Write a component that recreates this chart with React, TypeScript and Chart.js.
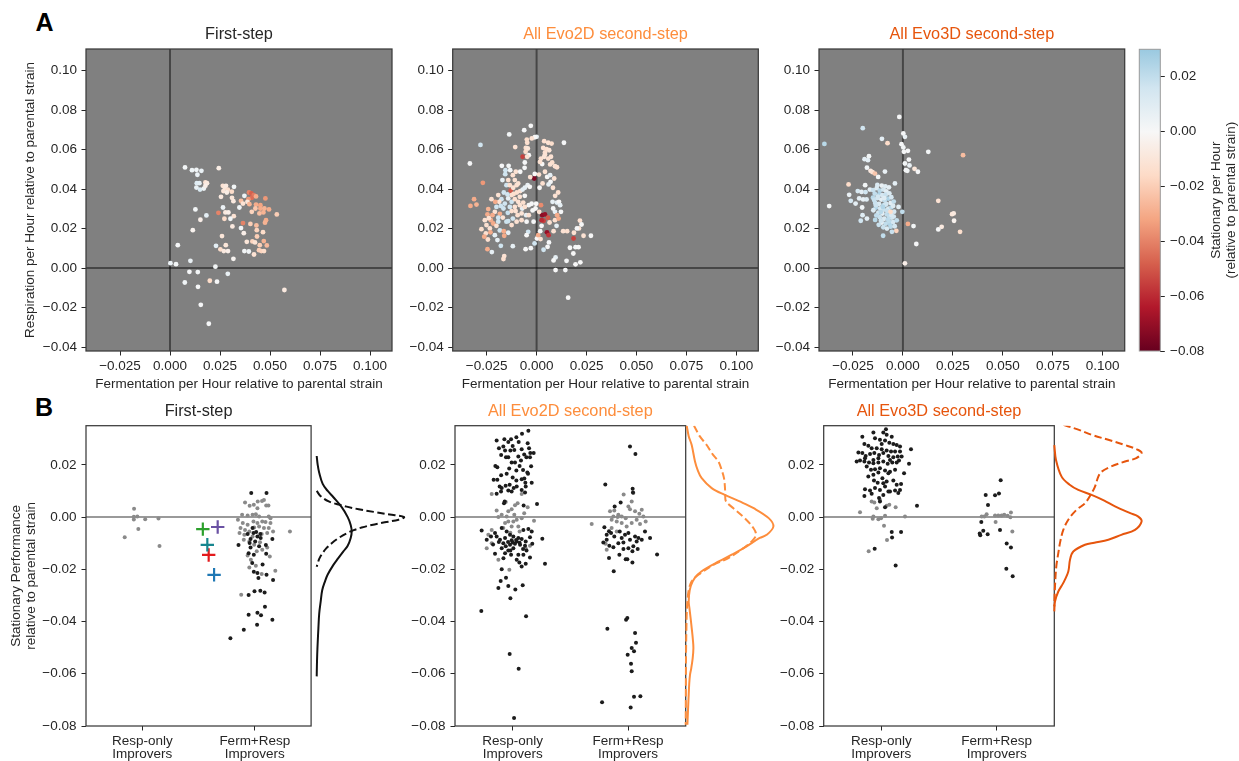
import { useEffect, useRef } from "react";
import { Chart, registerables } from "chart.js";

Chart.register(...registerables);

const FONT = "'Liberation Sans', Arial, Helvetica, sans-serif";
const INK = "#262626";
const EVO2D = "#fd8d3c";
const EVO3D = "#e6550d";
const BLACK_DOT = "#1c1c1c";
const GRAY_DOT = "#8a8a8a";

Chart.defaults.font.family = FONT;
Chart.defaults.color = INK;

// ---------- Panel A: fermentation vs respiration, coloured by stationary performance ----------
const A_MIN = -0.042;
const A_MAX = 0.111;
const A_X_TICKS = [-0.025, 0, 0.025, 0.05, 0.075, 0.1];
const A_Y_TICKS = [-0.04, -0.02, 0, 0.02, 0.04, 0.06, 0.08, 0.1];
const A_X_TITLE = "Fermentation per Hour relative to parental strain";
const A_Y_TITLE = "Respiration per Hour relative to parental strain";

// [fermentation, respiration, stationary]
const firstStepFitness: number[][] = [
  [0.0075, 0.051, 0.002], [0.011, 0.0496, 0.004], [0.0132, 0.0498, 0.003], [0.0157, 0.0493, 0.006], [0.0137, 0.0473, 0.005],
  [0.0244, 0.0506, -0.006], [0.0134, 0.043, 0.01], [0.0147, 0.043, 0.008], [0.0177, 0.0434, -0.012], [0.0185, 0.043, -0.008],
  [0.0132, 0.0408, 0.006], [0.015, 0.0398, 0.012], [0.0169, 0.0403, 0.004], [0.0177, 0.0417, -0.005], [0.0264, 0.0417, -0.012],
  [0.0274, 0.0407, -0.01], [0.028, 0.0417, -0.008], [0.0289, 0.0397, -0.014], [0.0267, 0.039, -0.01], [0.0309, 0.0387, -0.015],
  [0.032, 0.0412, 0.002], [0.0255, 0.0361, -0.008], [0.0284, 0.0383, -0.006], [0.031, 0.0356, -0.01], [0.0395, 0.0383, -0.04],
  [0.0407, 0.0378, -0.048], [0.0419, 0.037, -0.042], [0.0409, 0.0356, -0.045], [0.0392, 0.0349, -0.035], [0.043, 0.0363, -0.03],
  [0.0372, 0.0366, 0.004], [0.0387, 0.0336, -0.01], [0.0355, 0.0341, -0.025], [0.0397, 0.0324, -0.028], [0.043, 0.0322, -0.03],
  [0.0452, 0.0319, -0.032], [0.0477, 0.0353, -0.035], [0.0452, 0.0302, -0.03], [0.0472, 0.0302, -0.028], [0.0495, 0.0297, -0.03],
  [0.0427, 0.0302, -0.022], [0.0447, 0.0277, -0.025], [0.0467, 0.0282, -0.028], [0.0534, 0.0272, -0.02], [0.0409, 0.0285, -0.018],
  [0.0365, 0.0327, -0.012], [0.0347, 0.0307, 0.003], [0.0317, 0.0339, -0.008], [0.0265, 0.0307, 0.005], [0.0242, 0.028, -0.04],
  [0.0277, 0.0282, -0.008], [0.0292, 0.0282, -0.005], [0.0319, 0.0263, -0.012], [0.0272, 0.025, -0.015], [0.0302, 0.025, 0.003],
  [0.0127, 0.0297, 0.002], [0.0182, 0.0267, 0.008], [0.0152, 0.0245, -0.005], [0.0365, 0.0228, -0.04], [0.0402, 0.0224, -0.02],
  [0.0432, 0.0216, -0.025], [0.0355, 0.0203, 0.003], [0.0434, 0.0192, -0.018], [0.048, 0.0243, -0.03], [0.0475, 0.023, -0.028],
  [0.0369, 0.0177, -0.005], [0.0465, 0.0182, -0.015], [0.0435, 0.016, -0.02], [0.0114, 0.0192, -0.003], [0.026, 0.0162, -0.01],
  [0.0312, 0.0211, -0.008], [0.0039, 0.0116, 0.001], [0.023, 0.0113, 0.008], [0.0279, 0.0116, -0.01], [0.0252, 0.0095, -0.015],
  [0.0269, 0.0086, -0.008], [0.029, 0.0086, -0.005], [0.0384, 0.0133, -0.01], [0.0412, 0.0135, -0.018], [0.0425, 0.013, -0.012],
  [0.0449, 0.0116, -0.02], [0.0469, 0.0137, -0.028], [0.0484, 0.0115, -0.026], [0.0372, 0.0086, 0.002], [0.0394, 0.0084, 0.003],
  [0.042, 0.0069, -0.012], [0.0445, 0.0091, -0.02], [0.0457, 0.0086, -0.018], [0.047, 0.0086, -0.015], [0.0317, 0.0047, -0.002],
  [0.0102, 0.0037, 0.006], [0.0002, 0.0025, 0.005], [0.003, 0.002, 0.002], [0.0227, 0.0007, 0.002], [0.0097, -0.0019, 0.001],
  [0.0139, -0.002, 0.002], [0.0289, -0.0029, 0.006], [0.0074, -0.0073, 0.003], [0.0199, -0.0064, -0.015], [0.0235, -0.0069, 0.001],
  [0.014, -0.0095, 0.001], [0.0572, -0.0111, -0.008], [0.0154, -0.0186, 0.001], [0.0194, -0.0282, 0.001],
];

const evo2dFitness: number[][] = [
  [-0.0029, 0.0721, 0.0], [-0.0062, 0.0699, 0.001], [-0.0137, 0.0677, 0.002], [0.0, 0.0665, 0.007], [-0.0009, 0.0663, 0.0],
  [-0.0024, 0.0657, -0.012], [-0.0049, 0.0651, -0.014], [-0.0047, 0.0635, -0.013], [-0.0281, 0.0624, 0.016], [-0.0107, 0.0613, -0.012],
  [-0.0054, 0.0609, -0.013], [-0.0044, 0.0606, -0.01], [0.0038, 0.0643, -0.013], [0.0058, 0.0635, -0.012], [0.0075, 0.0631, -0.014],
  [0.0137, 0.0635, 0.001], [0.0033, 0.0609, -0.012], [0.005, 0.0603, -0.013], [0.0063, 0.0597, -0.011], [0.0042, 0.0586, -0.013],
  [0.0042, 0.0576, -0.012], [-0.0055, 0.0589, -0.014], [-0.0039, 0.0572, 0.0], [-0.007, 0.0564, -0.055], [-0.0047, 0.0564, -0.012],
  [0.0022, 0.0555, -0.013], [0.0038, 0.0564, -0.011], [0.0058, 0.0555, -0.013], [0.0072, 0.0564, -0.012], [0.0078, 0.0535, -0.014],
  [0.0092, 0.0516, -0.012], [0.0102, 0.0511, -0.013], [0.0068, 0.0525, -0.012], [0.0028, 0.0527, 0.0], [0.0017, 0.0538, -0.012],
  [-0.0059, 0.0535, 0.001], [-0.0334, 0.053, 0.001], [-0.0174, 0.0518, 0.001], [-0.014, 0.0518, 0.002], [-0.0156, 0.0496, 0.016],
  [-0.0132, 0.0496, 0.002], [-0.0119, 0.0471, -0.013], [-0.0104, 0.0488, -0.012], [-0.0082, 0.0488, 0.0], [-0.006, 0.0508, 0.001],
  [-0.0012, 0.0454, -0.075], [-0.0009, 0.0477, 0.0], [-0.0032, 0.0461, -0.012], [0.0012, 0.0474, -0.013], [0.0042, 0.0488, -0.012],
  [0.0053, 0.0462, 0.0], [0.0068, 0.0471, 0.007], [0.0088, 0.0454, -0.012], [0.007, 0.0437, 0.0], [0.006, 0.0424, 0.007],
  [0.003, 0.0429, -0.013], [0.0015, 0.0407, 0.0], [0.0082, 0.0407, -0.012], [0.0108, 0.0383, -0.013], [0.0093, 0.0366, -0.012],
  [0.008, 0.0336, 0.007], [0.0102, 0.0332, 0.008], [0.0112, 0.0336, 0.0], [0.0118, 0.0319, 0.007], [0.0092, 0.0285, 0.007],
  [0.0122, 0.0285, 0.001], [0.0103, 0.0268, -0.03], [0.0083, 0.0302, 0.0], [-0.0269, 0.0432, -0.035], [-0.0157, 0.0476, 0.016],
  [-0.0171, 0.0446, 0.007], [-0.0142, 0.0446, -0.013], [-0.013, 0.0392, -0.05], [-0.0117, 0.0407, -0.012], [-0.01, 0.042, -0.013],
  [-0.0092, 0.0429, -0.012], [-0.0115, 0.0376, -0.014], [-0.0082, 0.039, -0.012], [-0.007, 0.0398, 0.007], [-0.0059, 0.0407, 0.008],
  [-0.0045, 0.042, 0.006], [-0.0034, 0.0412, 0.0], [-0.0164, 0.0383, 0.016], [-0.0176, 0.0349, 0.017], [-0.0142, 0.0353, 0.007],
  [-0.0159, 0.0327, 0.016], [-0.0187, 0.0336, -0.012], [-0.0207, 0.0336, -0.03], [-0.0226, 0.0349, -0.013], [-0.0313, 0.0349, -0.03],
  [-0.0301, 0.0322, -0.028], [-0.0331, 0.0315, -0.03], [-0.0242, 0.0299, -0.028], [-0.0209, 0.0285, -0.012], [-0.0184, 0.0275, -0.03],
  [-0.0166, 0.0302, 0.016], [-0.0144, 0.028, 0.018], [-0.0125, 0.0289, -0.013], [-0.0109, 0.031, -0.012], [-0.0095, 0.0268, -0.013],
  [-0.0075, 0.0277, -0.011], [-0.0052, 0.0268, 0.007], [-0.002, 0.0292, 0.0], [-0.0039, 0.0319, 0.001], [-0.0072, 0.0302, 0.007],
  [-0.0092, 0.0336, -0.012], [-0.0067, 0.0332, -0.013], [-0.0119, 0.0251, 0.016], [-0.0142, 0.0238, 0.017], [-0.0169, 0.0256, -0.012],
  [-0.0192, 0.0235, 0.015], [-0.0229, 0.0243, -0.03], [-0.0246, 0.0272, -0.03], [-0.0251, 0.0218, -0.013], [-0.0234, 0.0201, -0.012],
  [-0.0276, 0.0197, -0.014], [-0.0254, 0.0176, -0.013], [-0.0231, 0.0181, -0.03], [-0.0209, 0.0167, 0.007], [-0.0184, 0.0191, 0.016],
  [-0.0164, 0.0187, -0.03], [-0.0142, 0.0179, 0.007], [-0.0162, 0.0164, -0.03], [-0.0196, 0.0142, 0.007], [-0.0244, 0.0145, -0.013],
  [-0.0246, 0.0096, -0.03], [-0.0224, 0.0081, 0.007], [-0.0179, 0.0113, 0.016], [-0.0119, 0.0111, 0.007], [-0.0162, 0.0061, -0.012],
  [-0.0166, 0.0046, -0.013], [-0.0055, 0.0096, 0.0], [-0.0029, 0.0101, 0.001], [-0.001, 0.0125, 0.016], [0.0002, 0.015, 0.0],
  [0.0008, 0.0167, -0.03], [0.002, 0.0147, -0.012], [0.0035, 0.0093, 0.016], [0.0055, 0.0108, 0.0], [0.0062, 0.013, 0.001],
  [0.0018, 0.0187, 0.0], [0.0025, 0.0214, 0.0], [0.0022, 0.0319, -0.038], [0.0028, 0.0268, -0.072], [0.0042, 0.0272, -0.07],
  [0.0035, 0.024, -0.055], [0.0057, 0.0255, -0.05], [0.0025, 0.0243, -0.06], [-0.0005, 0.0302, 0.0], [-0.0025, 0.0326, 0.001],
  [-0.0002, 0.0326, 0.0], [0.0013, 0.0285, -0.012], [0.0065, 0.0231, -0.013], [0.0085, 0.0187, -0.012], [0.0052, 0.0181, -0.07],
  [0.006, 0.0167, -0.058], [0.01, 0.0214, 0.007], [0.0092, 0.0243, -0.013], [0.0133, 0.0187, -0.012], [0.0153, 0.0187, -0.013],
  [0.0187, 0.0179, -0.012], [0.0212, 0.0201, -0.011], [0.0217, 0.0241, -0.013], [0.0225, 0.0221, 0.0], [0.0202, 0.0201, 0.001],
  [0.0185, 0.015, -0.055], [0.0235, 0.0164, -0.012], [0.0272, 0.0164, 0.0], [0.0167, 0.0103, 0.0], [0.0195, 0.0106, 0.001],
  [0.021, 0.0106, 0.0], [0.0184, 0.0074, 0.0], [0.015, 0.0037, 0.001], [0.0195, 0.0019, 0.0], [0.0219, 0.0029, 0.0],
  [0.0095, 0.0054, 0.007], [0.0085, 0.0039, 0.0], [0.0095, -0.001, 0.0], [0.0144, -0.001, 0.001], [0.0158, -0.015, 0.0],
  [0.011, 0.0251, -0.03], [-0.0039, 0.0268, -0.012], [-0.005, 0.0235, 0.0], [-0.0042, 0.0184, 0.016], [-0.005, 0.0167, 0.0],
  [-0.0015, 0.0235, 0.001], [-0.0151, 0.042, 0.016], [-0.0134, 0.042, -0.013], [-0.0109, 0.0446, -0.012], [-0.0099, 0.0383, -0.013],
  [-0.0084, 0.0361, -0.012], [-0.0125, 0.0336, 0.017], [-0.0109, 0.0349, -0.013], [-0.0134, 0.031, 0.016], [-0.0084, 0.0319, -0.012],
  [-0.0059, 0.031, -0.013], [-0.0201, 0.031, 0.016], [-0.0179, 0.0315, 0.017], [-0.0221, 0.0268, -0.03], [-0.0239, 0.0253, -0.012],
  [-0.0192, 0.0255, 0.016], [-0.0151, 0.0235, 0.017], [-0.0125, 0.0218, -0.013], [-0.01, 0.0235, -0.012], [-0.0075, 0.0243, -0.013],
  [-0.0105, 0.0289, -0.012], [-0.0125, 0.037, -0.013], [-0.0059, 0.0366, 0.0], [-0.0146, 0.0373, 0.016], [-0.0192, 0.037, -0.012],
  [-0.0217, 0.0226, -0.03], [-0.0201, 0.0214, -0.013], [-0.0259, 0.0243, -0.012], [-0.0262, 0.0159, -0.03],
];

const evo3dFitness: number[][] = [
  [-0.0018, 0.0766, 0.001], [-0.0201, 0.0709, 0.016], [0.0002, 0.0682, 0.001], [0.001, 0.0665, 0.006], [-0.0105, 0.0655, 0.008],
  [-0.0077, 0.0633, -0.015], [-0.0393, 0.0629, 0.022], [-0.0007, 0.0628, 0.001], [0.0002, 0.0611, 0.002], [0.0005, 0.0589, 0.001],
  [0.0025, 0.0594, 0.001], [0.0127, 0.0589, 0.002], [0.0301, 0.0572, -0.025], [-0.017, 0.0567, 0.002], [-0.0192, 0.0552, 0.008],
  [-0.0175, 0.0547, 0.008], [0.003, 0.055, 0.001], [0.001, 0.053, 0.002], [0.0033, 0.052, 0.006], [0.0058, 0.0503, -0.01],
  [0.0075, 0.0488, 0.001], [0.0015, 0.0496, 0.001], [0.0022, 0.0493, 0.002], [-0.018, 0.0509, 0.003], [-0.0162, 0.0493, -0.008],
  [-0.0152, 0.0486, -0.012], [-0.014, 0.0479, -0.022], [-0.0124, 0.0462, 0.002], [-0.009, 0.0489, 0.006], [-0.0272, 0.0424, -0.015],
  [-0.0189, 0.042, 0.002], [-0.0165, 0.0398, 0.008], [-0.0226, 0.039, 0.014], [-0.0207, 0.0386, 0.008], [-0.0187, 0.0385, 0.016],
  [-0.0269, 0.0371, 0.006], [-0.0219, 0.0353, 0.008], [-0.0199, 0.0348, 0.006], [-0.0182, 0.0348, 0.01], [-0.0261, 0.0341, 0.014],
  [-0.0237, 0.0327, 0.008], [-0.0204, 0.0307, 0.003], [-0.0369, 0.0314, 0.002], [-0.004, 0.0429, 0.008], [-0.0022, 0.031, 0.01],
  [-0.0003, 0.0285, 0.02], [0.0177, 0.0341, -0.012], [0.0246, 0.0273, -0.01], [0.0254, 0.0277, -0.008], [0.0256, 0.024, -0.003],
  [0.0194, 0.0209, -0.008], [0.0177, 0.0196, 0.001], [0.0286, 0.0184, -0.014], [0.0025, 0.0224, -0.03], [0.0053, 0.0213, 0.002],
  [0.0067, 0.0122, 0.001], [0.001, 0.0024, -0.005], [-0.0202, 0.0268, 0.01], [-0.018, 0.0251, 0.008], [-0.0211, 0.024, 0.016],
  [-0.0033, 0.0189, -0.018], [-0.0055, 0.0184, 0.018], [-0.0099, 0.0164, 0.02],
  [-0.0149, 0.0395, 0.018], [-0.0131, 0.0405, 0.012], [-0.0116, 0.0392, 0.022], [-0.0098, 0.0398, 0.015], [-0.0083, 0.0389, 0.008],
  [-0.0141, 0.0377, 0.02], [-0.0118, 0.0374, 0.025], [-0.0103, 0.0369, 0.014], [-0.0086, 0.0372, 0.018], [-0.0068, 0.0379, 0.012],
  [-0.015, 0.0357, 0.022], [-0.0128, 0.0354, 0.015], [-0.0108, 0.0347, 0.008], [-0.0091, 0.0343, 0.02], [-0.0073, 0.0352, 0.025],
  [-0.0058, 0.0359, 0.014], [-0.0139, 0.033, 0.018], [-0.012, 0.0325, 0.012], [-0.0098, 0.0318, 0.022], [-0.0083, 0.0325, 0.015],
  [-0.0061, 0.033, 0.008], [-0.0046, 0.0337, 0.02], [-0.0136, 0.0306, 0.025], [-0.0114, 0.0303, 0.014], [-0.0096, 0.0296, 0.018],
  [-0.0073, 0.0301, 0.012], [-0.0058, 0.0308, 0.022], [-0.0123, 0.0281, 0.015], [-0.0103, 0.0276, 0.008], [-0.0081, 0.0272, 0.02],
  [-0.0066, 0.0279, 0.025], [-0.0044, 0.0286, 0.014], [-0.0116, 0.0258, 0.018], [-0.0094, 0.025, 0.012], [-0.0075, 0.0247, 0.022],
  [-0.0056, 0.0256, 0.015], [-0.0106, 0.023, 0.008], [-0.0086, 0.0225, 0.02], [-0.0064, 0.0222, 0.025], [-0.0049, 0.0234, 0.014],
  [-0.0098, 0.0207, 0.018], [-0.008, 0.02, 0.012], [-0.0061, 0.021, 0.022], [-0.0041, 0.0212, 0.015], [-0.0133, 0.0267, 0.02],
  [-0.0148, 0.0293, 0.012], [-0.0139, 0.0244, 0.022], [-0.0121, 0.0219, 0.018], [-0.0046, 0.0261, 0.014], [-0.0031, 0.0242, 0.02],
  [-0.0106, 0.0418, 0.006], [-0.0088, 0.0414, 0.01], [-0.007, 0.0409, 0.008], [-0.0128, 0.0421, 0.012], [-0.0144, 0.0345, 0.018],
  [-0.0111, 0.0284, 0.022], [-0.009, 0.032, 0.016], [-0.0068, 0.0262, 0.02], [-0.0049, 0.0315, 0.012], [-0.0125, 0.0362, 0.015],
  [-0.0093, 0.0355, 0.01], [-0.0079, 0.029, 0.018], [-0.011, 0.024, 0.016], [-0.007, 0.0237, 0.021], [-0.01, 0.031, 0.024],
  [-0.0057, 0.0268, 0.013], [-0.0135, 0.0318, 0.017], [-0.0062, 0.0285, -0.015],
];

// ---------- Colour scale (RdBu, centred on zero) ----------
const NORM_MIN = -0.08;
const NORM_MAX = 0.08;
const CBAR_MIN = -0.08;
const CBAR_MAX = 0.03;
const CBAR_TICKS = [-0.08, -0.06, -0.04, -0.02, 0, 0.02];
const CBAR_LABEL = ["Stationary per Hour", "(relative to parental strain)"];
const RDBU = [
  "#67001f", "#b2182b", "#d6604d", "#f4a582", "#fddbc7", "#f7f7f7",
  "#d1e5f0", "#92c5de", "#4393c3", "#2166ac", "#053061",
];

// ---------- Panel B: stationary performance by improver class ----------
const B_MIN = -0.08;
const B_MAX = 0.035;
const B_Y_TICKS = [-0.08, -0.06, -0.04, -0.02, 0, 0.02];
const GROUP_POS = [0, 1];
const GROUP_LABELS = [["Resp-only", "Improvers"], ["Ferm+Resp", "Improvers"]];
const B_Y_TITLE = ["Stationary Performance", "relative to parental strain"];

// [jittered group position, stationary performance]
const firstRespGray: number[][] = [
  [-0.073, 0.0032], [-0.075, 0.0001], [-0.044, 0.0002], [-0.075, -0.0009], [0.026, -0.0008],
  [0.144, -0.0005], [-0.035, -0.0046], [-0.156, -0.0077], [0.153, -0.0111],
];
const firstFermBlack: number[][] = [
  [0.968, 0.0092], [1.104, 0.0092], [0.98, -0.0042], [0.936, -0.0065], [1.023, -0.0074], [1.052, -0.008],
  [0.855, -0.0107], [0.962, -0.0084], [1.003, -0.0093], [1.038, -0.0112], [1.098, -0.0107], [1.156, -0.0084],
  [0.945, -0.0138], [0.991, -0.0144], [1.101, -0.014], [0.962, -0.0116], [1.069, -0.0182], [0.977, -0.0176],
  [0.991, -0.0209], [1.023, -0.0214], [1.032, -0.0233], [1.104, -0.0221], [1.162, -0.0241], [0.997, -0.0284],
  [1.049, -0.0282], [1.087, -0.0289], [0.945, -0.0298], [1.09, -0.0343], [1.023, -0.0366], [1.055, -0.0376],
  [0.945, -0.0374], [1.156, -0.0393], [1.02, -0.0412], [0.902, -0.0431], [0.783, -0.0464], [0.954, -0.0099],
  [1.012, -0.0057], [1.049, -0.0065], [0.988, -0.0061],
];
const firstFermGray: number[][] = [
  [0.913, 0.0056], [0.991, 0.0047], [1.026, 0.006], [1.064, 0.0062], [1.081, 0.0065], [1.101, 0.0044],
  [1.121, 0.0044], [0.954, 0.0043], [1.023, 0.0034], [0.887, 0.0009], [0.936, 0.0006], [0.98, 0.0009],
  [1.009, 0.0011], [1.038, 0.0002], [1.124, 0.0002], [1.139, -0.0004], [0.85, -0.001], [0.893, -0.0023],
  [0.936, -0.0029], [0.988, -0.0017], [1.023, -0.0023], [1.066, -0.0017], [1.095, -0.0019], [1.139, -0.0023],
  [0.873, -0.0042], [0.913, -0.0049], [0.951, -0.0055], [0.994, -0.004], [1.038, -0.0036], [1.081, -0.0042],
  [1.124, -0.0042], [1.162, -0.0055], [0.864, -0.0061], [0.907, -0.0068], [0.98, -0.0074], [1.061, -0.0065],
  [1.11, -0.0061], [0.902, -0.0087], [0.951, -0.0093], [0.994, -0.0106], [1.046, -0.0096], [1.11, -0.0116],
  [1.133, -0.0151], [0.936, -0.0147], [1.017, -0.0131], [1.066, -0.0125], [0.965, -0.0163], [1.009, -0.0186],
  [0.951, -0.0193], [1.061, -0.0218], [1.182, -0.0205], [0.879, -0.0297], [1.312, -0.0055],
];
// Reference strains shown as crosses
const refStrainPos: number[][] = [
  [0.538, -0.0046], [0.67, -0.0038], [0.578, -0.0106], [0.59, -0.0145], [0.638, -0.0221],
];
const refStrainColors = ["#2ca02c", "#6a51a3", "#17868f", "#e31a1c", "#1f78b4"];

const evo2dRespBlack: number[][] = [
  [0.136, 0.0331], [0.081, 0.0319], [0.032, 0.0306], [-0.014, 0.0298], [-0.072, 0.0298], [-0.139, 0.0293],
  [-0.038, 0.0288], [0.052, 0.0288], [0.13, 0.0283], [0.182, 0.0245], [0.153, 0.0245], [0.142, 0.0264],
  [0.078, 0.026], [0.014, 0.0257], [-0.02, 0.0255], [-0.066, 0.0255], [-0.119, 0.0264], [-0.081, 0.027],
  [0.049, 0.0232], [-0.009, 0.0209], [-0.038, 0.0229], [0.02, 0.0209], [0.119, 0.0229], [0.072, 0.0217],
  [0.15, 0.0229], [-0.058, 0.0229], [-0.133, 0.0191], [-0.15, 0.0196], [-0.052, 0.0166], [0.032, 0.0178],
  [0.127, 0.0171], [0.133, 0.0166], [0.078, 0.0145], [0.032, 0.014], [0.101, 0.0148], [0.165, 0.0132],
  [0.11, 0.0132], [-0.165, 0.0143], [-0.133, 0.0143], [-0.113, 0.0117], [-0.095, 0.0111], [-0.061, 0.012],
  [-0.026, 0.0124], [0.009, 0.0111], [0.035, 0.0117], [0.078, 0.0104], [0.113, 0.0117], [-0.038, 0.0102],
  [-0.009, 0.0098], [0.107, 0.0094], [-0.139, 0.0089], [-0.101, 0.0098], [-0.069, 0.006], [-0.075, 0.0053],
  [0.0, 0.0272], [0.1, 0.024], [-0.1, 0.0238], [0.06, 0.0196], [-0.03, 0.0186], [0.09, 0.018], [0.16, 0.0195],
  [-0.1, 0.016], [0.0, 0.0152],
  [0.095, 0.0044], [0.211, 0.005], [-0.269, -0.0051], [-0.225, -0.0087], [-0.188, -0.0074], [-0.153, -0.0061],
  [-0.095, -0.0042], [-0.052, -0.0055], [-0.023, -0.0068], [0.006, -0.0074], [0.049, -0.008], [0.078, -0.0084],
  [0.035, -0.0093], [-0.009, -0.0089], [-0.066, -0.008], [-0.11, -0.0087], [-0.139, -0.0074], [-0.081, -0.01],
  [-0.023, -0.0106], [0.02, -0.0102], [0.064, -0.0106], [0.113, -0.0093], [0.15, -0.0077], [0.165, -0.0055],
  [0.136, -0.0046], [0.093, -0.0049], [0.257, -0.0083], [0.107, -0.011], [0.006, -0.0119], [-0.038, -0.0128],
  [-0.095, -0.0119], [-0.153, -0.014], [-0.066, -0.0138], [-0.014, -0.0144], [0.049, -0.0144], [0.093, -0.0144],
  [0.035, -0.0163], [0.078, -0.0189], [0.113, -0.0179], [0.28, -0.0179], [0.058, -0.0174],
  [-0.04, -0.0095], [0.0, -0.0097], [0.03, -0.0088], [0.06, -0.0098], [-0.12, -0.0095], [-0.06, -0.0112],
  [0.09, -0.0122], [-0.17, -0.0105], [0.17, -0.0102], [-0.02, -0.0128], [0.12, -0.0128], [-0.08, -0.0158],
  [0.15, -0.0155],
  [-0.095, -0.02], [-0.058, -0.0232], [-0.104, -0.0245], [-0.038, -0.0264], [0.023, -0.0277], [0.087, -0.0261],
  [-0.124, -0.0272], [-0.02, -0.0311], [-0.272, -0.036], [0.116, -0.038], [-0.026, -0.0524], [0.052, -0.0581],
  [0.012, -0.0769],
];
const evo2dRespGray: number[][] = [
  [-0.182, 0.0088], [0.078, 0.0088], [-0.139, 0.0025], [-0.095, 0.0009], [-0.038, 0.0022], [-0.009, 0.003],
  [0.043, 0.0053], [0.035, -0.001], [0.006, -0.0017], [-0.038, -0.0017], [-0.066, -0.0023], [0.049, -0.0036],
  [-0.009, -0.0036], [0.185, -0.0014], [0.13, 0.0038], [-0.124, 0.0], [-0.052, 0.0002], [0.014, 0.0009],
  [0.078, -0.0004], [-0.182, -0.0049], [-0.081, -0.0042], [-0.225, -0.0119], [-0.124, -0.0163], [-0.029, -0.0202],
  [0.113, -0.0119], [0.15, -0.011], [-0.182, -0.01], [-0.211, -0.0068], [0.02, 0.0045], [-0.06, 0.0058],
  [0.1, 0.0015], [-0.02, -0.006], [0.06, -0.0055],
];
const evo2dFermBlack: number[][] = [
  [1.017, 0.027], [1.064, 0.0242], [0.803, 0.0125], [1.04, 0.0109], [1.043, 0.0094], [0.936, 0.0056],
  [0.884, 0.0041], [0.795, -0.0039], [0.835, -0.0054], [0.928, -0.0055], [0.974, -0.0068], [1.003, -0.0061],
  [1.061, -0.0074], [1.09, -0.008], [1.147, -0.0055], [1.191, -0.008], [0.815, -0.0087], [0.786, -0.0097],
  [0.838, -0.011], [0.873, -0.0115], [0.916, -0.01], [0.96, -0.0122], [1.003, -0.0119], [1.046, -0.0112],
  [1.084, -0.0122], [1.038, -0.0131], [0.98, -0.0161], [0.994, -0.0161], [0.835, -0.0157], [0.925, -0.0144],
  [1.252, -0.0143], [0.876, -0.0207], [1.038, -0.0174], [0.983, -0.0393], [0.994, -0.0386], [0.821, -0.0428],
  [1.061, -0.0444], [1.069, -0.0481], [1.032, -0.0501], [1.052, -0.0514], [0.997, -0.0527], [1.026, -0.0562],
  [1.032, -0.059], [1.052, -0.0688], [1.107, -0.0686], [0.775, -0.0709], [1.023, -0.0729], [0.853, -0.0061],
  [0.881, -0.0074], [0.945, -0.008], [1.017, -0.0087], [1.075, -0.0093], [1.119, -0.0087], [0.815, -0.0068],
  [0.96, -0.0097],
];
const evo2dFermGray: number[][] = [
  [0.685, -0.0026], [0.844, 0.0022], [0.881, 0.0025], [0.916, 0.0009], [0.945, 0.0002], [0.98, -0.0004],
  [1.017, 0.003], [1.061, 0.0022], [1.098, 0.0013], [1.133, 0.0002], [1.153, -0.0017], [1.119, 0.0028],
  [1.032, 0.006], [1.003, 0.0041], [0.858, -0.001], [0.902, -0.0017], [0.945, -0.0023], [0.988, -0.0036],
  [1.032, -0.0023], [1.075, -0.001], [1.104, -0.0026], [0.858, -0.0042], [0.902, -0.0055], [0.815, -0.0125],
  [0.806, -0.0102], [1.046, 0.0092], [0.962, 0.0087], [0.91, 0.0], [0.873, 0.0002],
];

const evo3dRespBlack: number[][] = [
  [0.04, 0.0336], [0.017, 0.0324], [0.046, 0.0315], [-0.069, 0.0324], [0.09, 0.0308], [-0.165, 0.0308],
  [-0.055, 0.0302], [-0.012, 0.0296], [0.032, 0.0293], [0.069, 0.0285], [0.104, 0.028], [0.133, 0.0276],
  [0.162, 0.027], [-0.147, 0.028], [-0.113, 0.0273], [-0.084, 0.0264], [-0.04, 0.0264], [0.003, 0.026],
  [0.046, 0.0255], [0.084, 0.0251], [0.119, 0.0251], [0.162, 0.0251], [-0.199, 0.0247], [-0.165, 0.0245],
  [-0.136, 0.0234], [-0.098, 0.0242], [-0.061, 0.0245], [-0.02, 0.0238], [0.017, 0.0245], [0.061, 0.0234],
  [0.104, 0.0229], [0.142, 0.0232], [0.257, 0.026], [-0.214, 0.0213], [-0.185, 0.0217], [-0.147, 0.0213],
  [-0.107, 0.0209], [-0.069, 0.0206], [-0.026, 0.0209], [0.017, 0.0213], [0.055, 0.0204], [0.095, 0.0209],
  [0.153, 0.0217], [0.24, 0.0204], [-0.127, 0.0194], [-0.09, 0.0181], [-0.055, 0.0183], [-0.012, 0.0187],
  [0.032, 0.0178], [0.075, 0.0174], [0.119, 0.0181], [0.197, 0.0168], [-0.113, 0.0155], [-0.069, 0.0162],
  [-0.026, 0.0171], [0.009, 0.0149], [0.061, 0.0168], [-0.064, 0.014], [-0.032, 0.0132], [0.017, 0.013],
  [0.046, 0.0136], [0.104, 0.014], [0.133, 0.0124], [0.171, 0.0127], [-0.142, 0.0107], [-0.098, 0.0102],
  [-0.055, 0.0111], [-0.012, 0.0104], [0.032, 0.0117], [0.075, 0.0098], [0.119, 0.0102], [0.162, 0.0104],
  [-0.147, 0.0081], [-0.084, 0.0089], [-0.02, 0.0073], [0.017, 0.0085], [0.061, 0.0098], [0.147, 0.0092],
  [-0.012, 0.006], [0.032, 0.0038], [0.309, 0.0043], [-0.069, 0.0219], [-0.026, 0.0225], [0.075, 0.0219],
  [0.133, 0.0209], [-0.142, 0.0225], [0.003, 0.028], [0.176, 0.0232], [0.09, -0.0057], [0.171, -0.0057],
  [0.093, -0.0078], [-0.058, -0.0121], [0.124, -0.0185],
];
const evo3dRespGray: number[][] = [
  [-0.185, 0.0019], [-0.084, 0.006], [-0.061, 0.0056], [-0.04, 0.0034], [-0.012, 0.0066], [0.046, 0.0043],
  [0.069, 0.0047], [0.124, 0.0038], [-0.069, 0.0002], [-0.075, -0.0006], [-0.026, -0.0008], [-0.003, -0.0004],
  [0.032, 0.0005], [0.205, 0.0002], [0.023, -0.0033], [0.049, -0.0088], [-0.11, -0.0131],
];
const evo3dFermBlack: number[][] = [
  [1.035, 0.0141], [0.905, 0.0085], [0.986, 0.0084], [1.02, 0.009], [0.925, 0.0046], [0.867, -0.0019],
  [0.884, -0.0052], [0.922, -0.0066], [0.853, -0.0063], [0.858, -0.007], [1.029, -0.0049], [1.087, -0.0101],
  [1.124, -0.0116], [1.084, -0.0198], [1.139, -0.0227],
];
const evo3dFermGray: number[][] = [
  [0.87, 0.0002], [0.893, 0.0002], [0.913, 0.0011], [0.991, -0.0019], [1.014, 0.0006], [1.043, 0.0006],
  [1.066, 0.0009], [1.095, 0.0005], [1.119, -0.0001], [1.124, 0.0018], [1.136, -0.0055], [0.986, 0.0006],
];

// Marginal densities: [density, stationary performance]
const KDE_MAX = 88;
const firstKdeResp: number[][] = [
  [0, 0.01], [4, 0.008], [12, 0.006], [23, 0.0047], [30, 0.004], [42, 0.003], [57, 0.002], [73, 0.001],
  [87.5, 0.0], [82, -0.001], [68, -0.002], [55, -0.003], [45, -0.004], [37, -0.005], [31, -0.006], [22, -0.008],
  [15, -0.01], [9.5, -0.012], [5.5, -0.014], [2.5, -0.016], [0.8, -0.018], [0, -0.019],
];
const firstKdeFerm: number[][] = [
  [0, 0.0234], [1, 0.02], [2.5, 0.017], [6, 0.0127], [11, 0.01], [16.7, 0.0076], [25, 0.0038], [31, 0.0],
  [34, -0.003], [35, -0.0055], [34, -0.008], [31, -0.011], [26.7, -0.0131], [21, -0.016], [16.7, -0.0183],
  [11, -0.022], [8.3, -0.0246], [5.5, -0.028], [4, -0.0323], [2.5, -0.037], [1.7, -0.0425], [1, -0.048],
  [0.5, -0.0527], [0.2, -0.057], [0, -0.061],
];
const evo2dKdeResp: number[][] = [
  [8.3, 0.035], [14, 0.031], [21, 0.0276], [27, 0.024], [32.7, 0.0213], [36, 0.018], [38.3, 0.0149],
  [39.3, 0.0111], [39.5, 0.0085], [40.3, 0.006], [47.7, 0.0034], [59, -0.0004], [67.7, -0.0042], [70.3, -0.0068],
  [66, -0.0093], [57.7, -0.0119], [42.7, -0.0157], [27.7, -0.0183], [12.7, -0.0221], [6, -0.0246], [3, -0.028],
  [1.7, -0.0323], [1, -0.037], [0.7, -0.0425], [0.4, -0.05], [0.2, -0.06], [0.1, -0.07], [0, -0.0795],
];
const evo2dKdeFerm: number[][] = [
  [1, 0.035], [3, 0.031], [6, 0.0276], [9.3, 0.0213], [12, 0.018], [16, 0.0149], [26, 0.0111], [39, 0.0085],
  [54, 0.006], [68, 0.0034], [83, -0.0004], [87.7, -0.0036], [81, -0.0068], [74, -0.008], [58, -0.0119],
  [46, -0.0144], [33, -0.017], [21, -0.0195], [12, -0.022], [7, -0.0246], [4, -0.028], [3, -0.0323],
  [3.7, -0.0348], [5, -0.039], [6, -0.0425], [7.2, -0.047], [7.7, -0.0501], [7, -0.054], [5.5, -0.058],
  [4.3, -0.0604], [3.5, -0.064], [3, -0.068], [2.3, -0.074], [1.7, -0.0795],
];
const evo3dKdeResp: number[][] = [
  [9, 0.0353], [24, 0.0335], [37.3, 0.0315], [54, 0.0296], [70.7, 0.0276], [84, 0.0257], [87.3, 0.0245],
  [82, 0.0226], [70.7, 0.0213], [57, 0.0194], [47.3, 0.0174], [44, 0.0155], [40.7, 0.0117], [37.3, 0.0092],
  [30.7, 0.0053], [22.3, 0.0028], [14, -0.001], [9, -0.0049], [6, -0.0093], [4, -0.0138], [2, -0.0189],
  [0.7, -0.0265], [0, -0.0342],
];
const evo3dKdeFerm: number[][] = [
  [0, 0.0276], [1.7, 0.0219], [7.3, 0.0155], [15, 0.0125], [24, 0.0104], [37.3, 0.0085], [50, 0.0063],
  [60.7, 0.0041], [76, 0.0015], [84, 0.0002], [87.3, -0.0017], [80.7, -0.0049], [67, -0.0068], [54, -0.0087],
  [40, -0.0098], [30.7, -0.0106], [19, -0.0132], [15.7, -0.0163], [14, -0.0208], [9, -0.0252], [4, -0.0285],
  [0.7, -0.0323], [0, -0.0361],
];

// ---------- helpers ----------
function hexToRgb(h: string) {
  const n = parseInt(h.slice(1), 16);
  return [(n >> 16) & 255, (n >> 8) & 255, n & 255];
}
const RDBU_RGB = RDBU.map(hexToRgb);

function rdbu(t: number) {
  const c = Math.min(1, Math.max(0, t)) * (RDBU_RGB.length - 1);
  const i = Math.min(RDBU_RGB.length - 2, Math.floor(c));
  const f = c - i;
  const a = RDBU_RGB[i];
  const b = RDBU_RGB[i + 1];
  const m = (k: number) => Math.round(a[k] + (b[k] - a[k]) * f);
  return `rgb(${m(0)},${m(1)},${m(2)})`;
}
function stationaryColor(v: number) {
  return rdbu((v - NORM_MIN) / (NORM_MAX - NORM_MIN));
}

function signedFixed(decimals: number) {
  return (v: number | string) => {
    const n = Number(v);
    const s = Math.abs(n).toFixed(decimals);
    return (n < -1e-9 ? "\u2212" : "") + s;
  };
}
function fixedTicks(values: number[]) {
  return (scale: any) => {
    scale.ticks = values.map((value) => ({ value }));
  };
}
const tickMarks = {
  display: true,
  drawOnChartArea: false,
  drawTicks: true,
  tickLength: 4.5,
  color: INK,
  lineWidth: 1,
};
function tickStyle(padding: number, callback: any, lineHeight = 1.2) {
  return {
    color: INK,
    font: { family: FONT, size: 13.5, lineHeight },
    padding,
    autoSkip: false,
    maxRotation: 0,
    minRotation: 0,
    callback,
  };
}
const TITLE_FONT = { family: FONT, size: 16.3, weight: "normal" as const, lineHeight: 1.2 };

function framePlugin(color: string, width: number) {
  return {
    id: "frame",
    afterDatasetsDraw(chart: any) {
      const { ctx, chartArea: a } = chart;
      ctx.save();
      ctx.strokeStyle = color;
      ctx.lineWidth = width;
      ctx.strokeRect(a.left, a.top, a.right - a.left, a.bottom - a.top);
      ctx.restore();
    },
  };
}
function panelFillPlugin(color: string) {
  return {
    id: "panelFill",
    beforeDatasetsDraw(chart: any) {
      const { ctx, chartArea: a } = chart;
      ctx.save();
      ctx.fillStyle = color;
      ctx.fillRect(a.left, a.top, a.right - a.left, a.bottom - a.top);
      ctx.restore();
    },
  };
}

const baseOptions = {
  responsive: false,
  animation: false as const,
  events: [] as any[],
};

// ---------- chart configs ----------
function fitnessConfig(
  points: number[][],
  title: string,
  titleColor: string,
  yAxisWidth: number,
  rightPad: number,
  showYTitle: boolean
) {
  return {
    type: "scatter",
    data: {
      datasets: [
        {
          type: "line",
          data: [{ x: 0, y: A_MIN }, { x: 0, y: A_MAX }],
          borderColor: "rgba(0,0,0,0.45)",
          borderWidth: 2,
          pointRadius: 0,
          order: 3,
        },
        {
          type: "line",
          data: [{ x: A_MIN, y: 0 }, { x: A_MAX, y: 0 }],
          borderColor: "rgba(0,0,0,0.45)",
          borderWidth: 2,
          pointRadius: 0,
          order: 3,
        },
        {
          data: points.map(([x, y]) => ({ x, y })),
          pointBackgroundColor: points.map((p) => stationaryColor(p[2])),
          pointBorderWidth: 0,
          pointRadius: 2.4,
          order: 1,
        },
      ],
    },
    options: {
      ...baseOptions,
      layout: { padding: { left: 0, right: rightPad, top: 0, bottom: 0 } },
      plugins: {
        legend: { display: false },
        tooltip: { enabled: false },
        title: {
          display: true,
          fullSize: false,
          text: title,
          color: titleColor,
          font: TITLE_FONT,
          padding: { top: 5.2, bottom: 4.24 },
        },
      },
      scales: {
        x: {
          type: "linear",
          min: A_MIN,
          max: A_MAX,
          afterBuildTicks: fixedTicks(A_X_TICKS),
          afterFit: (s: any) => {
            s.height = 44;
          },
          ticks: tickStyle(2.9, signedFixed(3)),
          grid: tickMarks,
          border: { display: false },
          title: {
            display: true,
            text: A_X_TITLE,
            color: INK,
            font: { family: FONT, size: 13.5, lineHeight: 1.2 },
            padding: { top: 0, bottom: 2.4 },
          },
        },
        y: {
          type: "linear",
          min: A_MIN,
          max: A_MAX,
          afterBuildTicks: fixedTicks(A_Y_TICKS),
          afterFit: (s: any) => {
            s.width = yAxisWidth;
          },
          ticks: tickStyle(4.5, signedFixed(2)),
          grid: tickMarks,
          border: { display: false },
          title: {
            display: showYTitle,
            text: A_Y_TITLE,
            color: INK,
            font: { family: FONT, size: 13.5, lineHeight: 1.2 },
            padding: { top: 21.9, bottom: 0 },
          },
        },
      },
    },
    plugins: [panelFillPlugin("#808080"), framePlugin("#3a3a3a", 1.25)],
  };
}

function colorbarConfig() {
  const gradient = {
    id: "cbarGradient",
    beforeDatasetsDraw(chart: any) {
      const { ctx, chartArea: a, scales } = chart;
      const y = scales.y;
      const g = ctx.createLinearGradient(0, a.bottom, 0, a.top);
      const span = a.top - a.bottom;
      const addStop = (v: number) => {
        const pos = (y.getPixelForValue(v) - a.bottom) / span;
        g.addColorStop(Math.min(1, Math.max(0, pos)), stationaryColor(v));
      };
      addStop(CBAR_MIN);
      RDBU.forEach((_, i) => {
        const v = NORM_MIN + (i * (NORM_MAX - NORM_MIN)) / (RDBU.length - 1);
        if (v > CBAR_MIN && v < CBAR_MAX) addStop(v);
      });
      addStop(CBAR_MAX);
      ctx.save();
      ctx.fillStyle = g;
      ctx.fillRect(a.left, a.top, a.right - a.left, a.bottom - a.top);
      ctx.restore();
    },
  };
  const label = {
    id: "cbarLabel",
    afterDraw(chart: any) {
      const { ctx, chartArea: a } = chart;
      const cy = (a.top + a.bottom) / 2;
      ctx.save();
      ctx.fillStyle = INK;
      ctx.font = `13.5px ${FONT}`;
      ctx.textAlign = "center";
      ctx.textBaseline = "middle";
      CBAR_LABEL.forEach((line, i) => {
        ctx.save();
        ctx.translate(a.right + 55.7 + i * 15.7, cy);
        ctx.rotate(-Math.PI / 2);
        ctx.fillText(line, 0, 0);
        ctx.restore();
      });
      ctx.restore();
    },
  };
  return {
    type: "scatter",
    data: { datasets: [] },
    options: {
      ...baseOptions,
      layout: { padding: { left: 9.3, right: 0, top: 29.3, bottom: 44 } },
      plugins: { legend: { display: false }, tooltip: { enabled: false } },
      scales: {
        x: { display: false, min: 0, max: 1 },
        y: {
          type: "linear",
          position: "right",
          min: CBAR_MIN,
          max: CBAR_MAX,
          afterBuildTicks: fixedTicks(CBAR_TICKS),
          afterFit: (s: any) => {
            s.width = 78.7;
          },
          ticks: tickStyle(5.2, signedFixed(2)),
          grid: tickMarks,
          border: { display: false },
        },
      },
    },
    plugins: [gradient, framePlugin("#9a9a9a", 1), label],
  };
}

function stripConfig(o: {
  title: string;
  titleColor: string;
  black: number[][];
  gray: number[][];
  markers?: number[][];
  markerColors?: string[];
  yAxisWidth: number;
  rightPad: number;
  showYTitle: boolean;
}) {
  const datasets: any[] = [
    {
      type: "line",
      data: [{ x: -0.5, y: 0 }, { x: 1.5, y: 0 }],
      borderColor: "#9a9a9a",
      borderWidth: 2,
      pointRadius: 0,
      order: 4,
    },
    {
      data: o.gray.map(([x, y]) => ({ x, y })),
      pointBackgroundColor: GRAY_DOT,
      pointBorderWidth: 0,
      pointRadius: 2,
      order: 3,
    },
    {
      data: o.black.map(([x, y]) => ({ x, y })),
      pointBackgroundColor: BLACK_DOT,
      pointBorderWidth: 0,
      pointRadius: 2,
      order: 2,
    },
  ];
  (o.markers || []).forEach(([x, y], i) => {
    datasets.push({
      data: [{ x, y }],
      pointStyle: "cross",
      pointRadius: 6.7,
      pointBorderWidth: 2.2,
      pointBorderColor: (o.markerColors || [])[i],
      order: 1,
    });
  });
  return {
    type: "scatter",
    data: { datasets },
    options: {
      ...baseOptions,
      layout: { padding: { left: 0, right: o.rightPad, top: 0, bottom: 0 } },
      plugins: {
        legend: { display: false },
        tooltip: { enabled: false },
        title: {
          display: true,
          fullSize: false,
          text: o.title,
          color: o.titleColor,
          font: TITLE_FONT,
          padding: { top: 7.2, bottom: 3.94 },
        },
      },
      scales: {
        x: {
          type: "linear",
          min: -0.5,
          max: 1.5,
          afterBuildTicks: fixedTicks(GROUP_POS),
          afterFit: (s: any) => {
            s.height = 35;
          },
          ticks: tickStyle(3.75, (v: number) => GROUP_LABELS[Math.round(Number(v))], 1.0),
          grid: tickMarks,
          border: { display: false },
        },
        y: {
          type: "linear",
          min: B_MIN,
          max: B_MAX,
          afterBuildTicks: fixedTicks(B_Y_TICKS),
          afterFit: (s: any) => {
            s.width = o.yAxisWidth;
          },
          ticks: tickStyle(5, signedFixed(2)),
          grid: tickMarks,
          border: { display: false },
          title: {
            display: o.showYTitle,
            text: B_Y_TITLE,
            color: INK,
            font: { family: FONT, size: 13.5, lineHeight: 1.1 },
            padding: { top: 8.6, bottom: 0 },
          },
        },
      },
    },
    plugins: [framePlugin("#3a3a3a", 1.25)],
  };
}

function kdeConfig(resp: number[][], ferm: number[][], color: string, leftPad: number) {
  const line = (pts: number[][], dashed: boolean) => ({
    data: pts.map(([d, y]) => ({ x: d, y })),
    showLine: true,
    borderColor: color,
    borderWidth: 2,
    borderDash: dashed ? [7.5, 3.5] : [],
    pointRadius: 0,
    tension: 0.35,
    clip: { left: 4, right: 4, top: 0, bottom: 0 },
  });
  return {
    type: "scatter",
    data: { datasets: [line(resp, true), line(ferm, false)] },
    options: {
      ...baseOptions,
      layout: { padding: { left: leftPad, right: 100 - leftPad - KDE_MAX, top: 5.7, bottom: 4 } },
      plugins: { legend: { display: false }, tooltip: { enabled: false } },
      scales: {
        x: { display: false, type: "linear", min: 0, max: KDE_MAX },
        y: { display: false, type: "linear", min: B_MIN, max: B_MAX },
      },
    },
  };
}

// ---------- components ----------
function ChartBox(props: { left: number; top: number; width: number; height: number; make: () => any }) {
  const ref = useRef<HTMLCanvasElement | null>(null);
  useEffect(() => {
    const chart = new Chart(ref.current as HTMLCanvasElement, props.make());
    return () => chart.destroy();
  }, []);
  return (
    <canvas
      ref={ref}
      width={props.width}
      height={props.height}
      style={{
        position: "absolute",
        left: props.left,
        top: props.top,
        width: props.width,
        height: props.height,
      }}
    />
  );
}

const letterStyle = {
  position: "absolute" as const,
  fontFamily: FONT,
  fontWeight: 700,
  fontSize: 25,
  lineHeight: "25px",
  color: "#000",
};

export default function App() {
  return (
    <div
      style={{
        position: "absolute",
        left: 0,
        top: 0,
        width: 1239,
        height: 761,
        background: "#ffffff",
        overflow: "hidden",
      }}
    >
      <div style={{ ...letterStyle, left: 35.5, top: 10 }}>A</div>
      <div style={{ ...letterStyle, left: 35, top: 394.7 }}>B</div>

      <ChartBox left={0} top={20} width={400} height={375}
        make={() => fitnessConfig(firstStepFitness, "First-step", INK, 86, 8, true)} />
      <ChartBox left={400} top={20} width={370} height={375}
        make={() => fitnessConfig(evo2dFitness, "All Evo2D second-step", EVO2D, 52.7, 11.7, false)} />
      <ChartBox left={770} top={20} width={360} height={375}
        make={() => fitnessConfig(evo3dFitness, "All Evo3D second-step", EVO3D, 49, 5.3, false)} />
      <ChartBox left={1130} top={20} width={109} height={375} make={colorbarConfig} />

      <ChartBox left={0} top={395} width={320} height={366}
        make={() =>
          stripConfig({
            title: "First-step",
            titleColor: INK,
            black: firstFermBlack,
            gray: [...firstRespGray, ...firstFermGray],
            markers: refStrainPos,
            markerColors: refStrainColors,
            yAxisWidth: 86,
            rightPad: 3.3,
            showYTitle: true,
          })
        } />
      <ChartBox left={400} top={395} width={290} height={366}
        make={() =>
          stripConfig({
            title: "All Evo2D second-step",
            titleColor: EVO2D,
            black: [...evo2dRespBlack, ...evo2dFermBlack],
            gray: [...evo2dRespGray, ...evo2dFermGray],
            yAxisWidth: 55,
            rightPad: 4.3,
            showYTitle: false,
          })
        } />
      <ChartBox left={770} top={395} width={290} height={366}
        make={() =>
          stripConfig({
            title: "All Evo3D second-step",
            titleColor: EVO3D,
            black: [...evo3dRespBlack, ...evo3dFermBlack],
            gray: [...evo3dRespGray, ...evo3dFermGray],
            yAxisWidth: 53.7,
            rightPad: 5.7,
            showYTitle: false,
          })
        } />

      <ChartBox left={313} top={420} width={100} height={310}
        make={() => kdeConfig(firstKdeResp, firstKdeFerm, "#111111", 3.7)} />
      <ChartBox left={682} top={420} width={100} height={310}
        make={() => kdeConfig(evo2dKdeResp, evo2dKdeFerm, EVO2D, 3.7)} />
      <ChartBox left={1051} top={420} width={100} height={310}
        make={() => kdeConfig(evo3dKdeResp, evo3dKdeFerm, EVO3D, 3.3)} />
    </div>
  );
}
